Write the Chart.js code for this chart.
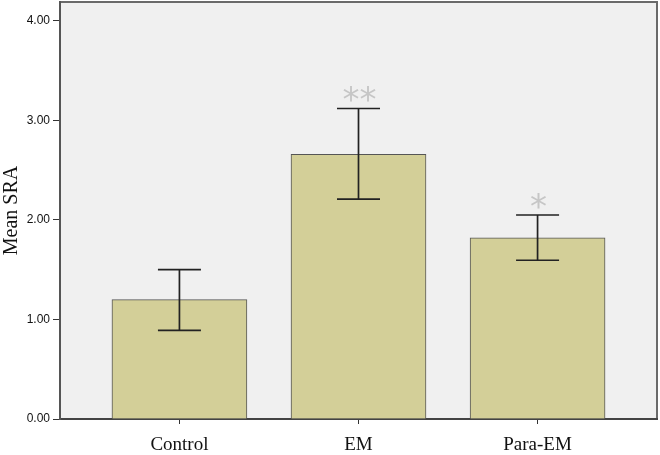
<!DOCTYPE html>
<html>
<head>
<meta charset="utf-8">
<script src="https://cdn.jsdelivr.net/npm/chart.js@4/dist/chart.umd.min.js"></script>
<style>
  html, body { margin: 0; padding: 0; background: #fff; }
  #wrap { width: 660px; height: 455px; }
</style>
</head>
<body>
<div id="wrap"><canvas id="chart" width="660" height="455"></canvas></div>
<script>
// data
const categories = ['Control', 'EM', 'Para-EM'];
const means = [1.20, 2.66, 1.82];
const errLow = [0.89, 2.21, 1.595];
const errHigh = [1.50, 3.12, 2.05];
const marks = ['', '**', '*'];
const yTicks = [0, 1, 2, 3, 4];

// plot background + frame, drawn behind bars
const frame = {
  id: 'frame',
  beforeDraw(chart) {
    const { ctx, chartArea: a } = chart;
    ctx.save();
    ctx.fillStyle = '#f0f0f0';
    ctx.fillRect(a.left, a.top, a.right - a.left, a.bottom - a.top);
    ctx.strokeStyle = '#6a6a6a';
    ctx.lineWidth = 2;
    ctx.strokeRect(a.left, a.top, a.right - a.left, a.bottom - a.top);
    ctx.restore();
  }
};

// error bars and significance stars
const errorBars = {
  id: 'errorBars',
  afterDatasetsDraw(chart) {
    const { ctx, scales: { x, y } } = chart;
    ctx.save();
    ctx.strokeStyle = '#222';
    ctx.lineWidth = 1.7;
    categories.forEach((c, i) => {
      const cx = x.getPixelForValue(i + 1);
      const hi = y.getPixelForValue(errHigh[i]);
      const lo = y.getPixelForValue(errLow[i]);
      ctx.beginPath();
      ctx.moveTo(cx, hi); ctx.lineTo(cx, lo);
      ctx.moveTo(cx - 21.5, hi); ctx.lineTo(cx + 21.5, hi);
      ctx.moveTo(cx - 21.5, lo); ctx.lineTo(cx + 21.5, lo);
      ctx.stroke();
      if (marks[i]) {
        ctx.fillStyle = '#c6c6c6';
        ctx.font = '34px "DejaVu Sans", sans-serif';
        ctx.textAlign = 'center';
        ctx.textBaseline = 'alphabetic';
        ctx.fillText(marks[i], cx + 1, hi + 3);
      }
    });
    ctx.restore();
  }
};

new Chart(document.getElementById('chart'), {
  type: 'bar',
  data: {
    datasets: [{
      data: means.map((v, i) => ({ x: i + 1, y: v })),
      backgroundColor: '#d3cf98',
      borderColor: '#555',
      borderWidth: 1,
      barThickness: 135
    }]
  },
  options: {
    responsive: false,
    animation: false,
    layout: { padding: { top: 2, right: 3, left: 0, bottom: 0 } },
    plugins: { legend: { display: false }, tooltip: { enabled: false } },
    scales: {
      x: {
        type: 'linear',
        min: 0.333,
        max: 3.667,
        offset: false,
        afterBuildTicks: s => { s.ticks = [1, 2, 3].map(v => ({ value: v })); },
        afterFit: s => { s.height = 36; s.paddingLeft = 0; s.paddingRight = 0; },
        grid: { offset: false, drawOnChartArea: false, drawTicks: true, tickLength: 5, color: '#333' },
        border: { display: true, color: '#444', width: 2 },
        ticks: {
          callback: v => categories[v - 1],
          color: '#111',
          padding: 10,
          font: { family: '"Liberation Serif", "Times New Roman", serif', size: 19 }
        }
      },
      y: {
        min: 0,
        max: 4.19,
        afterBuildTicks: s => { s.ticks = yTicks.map(v => ({ value: v })); },
        afterFit: s => { s.width = 60; s.paddingTop = 0; s.paddingBottom = 0; },
        grid: { drawOnChartArea: false, drawTicks: true, tickLength: 7, color: '#333' },
        border: { display: true, color: '#555', width: 2 },
        title: {
          display: true,
          text: 'Mean SRA',
          color: '#111',
          padding: { top: 0, bottom: 2 },
          font: { family: '"Liberation Serif", "Times New Roman", serif', size: 20 }
        },
        ticks: {
          callback: v => v.toFixed(2),
          color: '#111',
          padding: 3,
          font: { family: '"Liberation Sans", Arial, sans-serif', size: 12 }
        }
      }
    }
  },
  plugins: [frame, errorBars]
});
</script>
</body>
</html>
